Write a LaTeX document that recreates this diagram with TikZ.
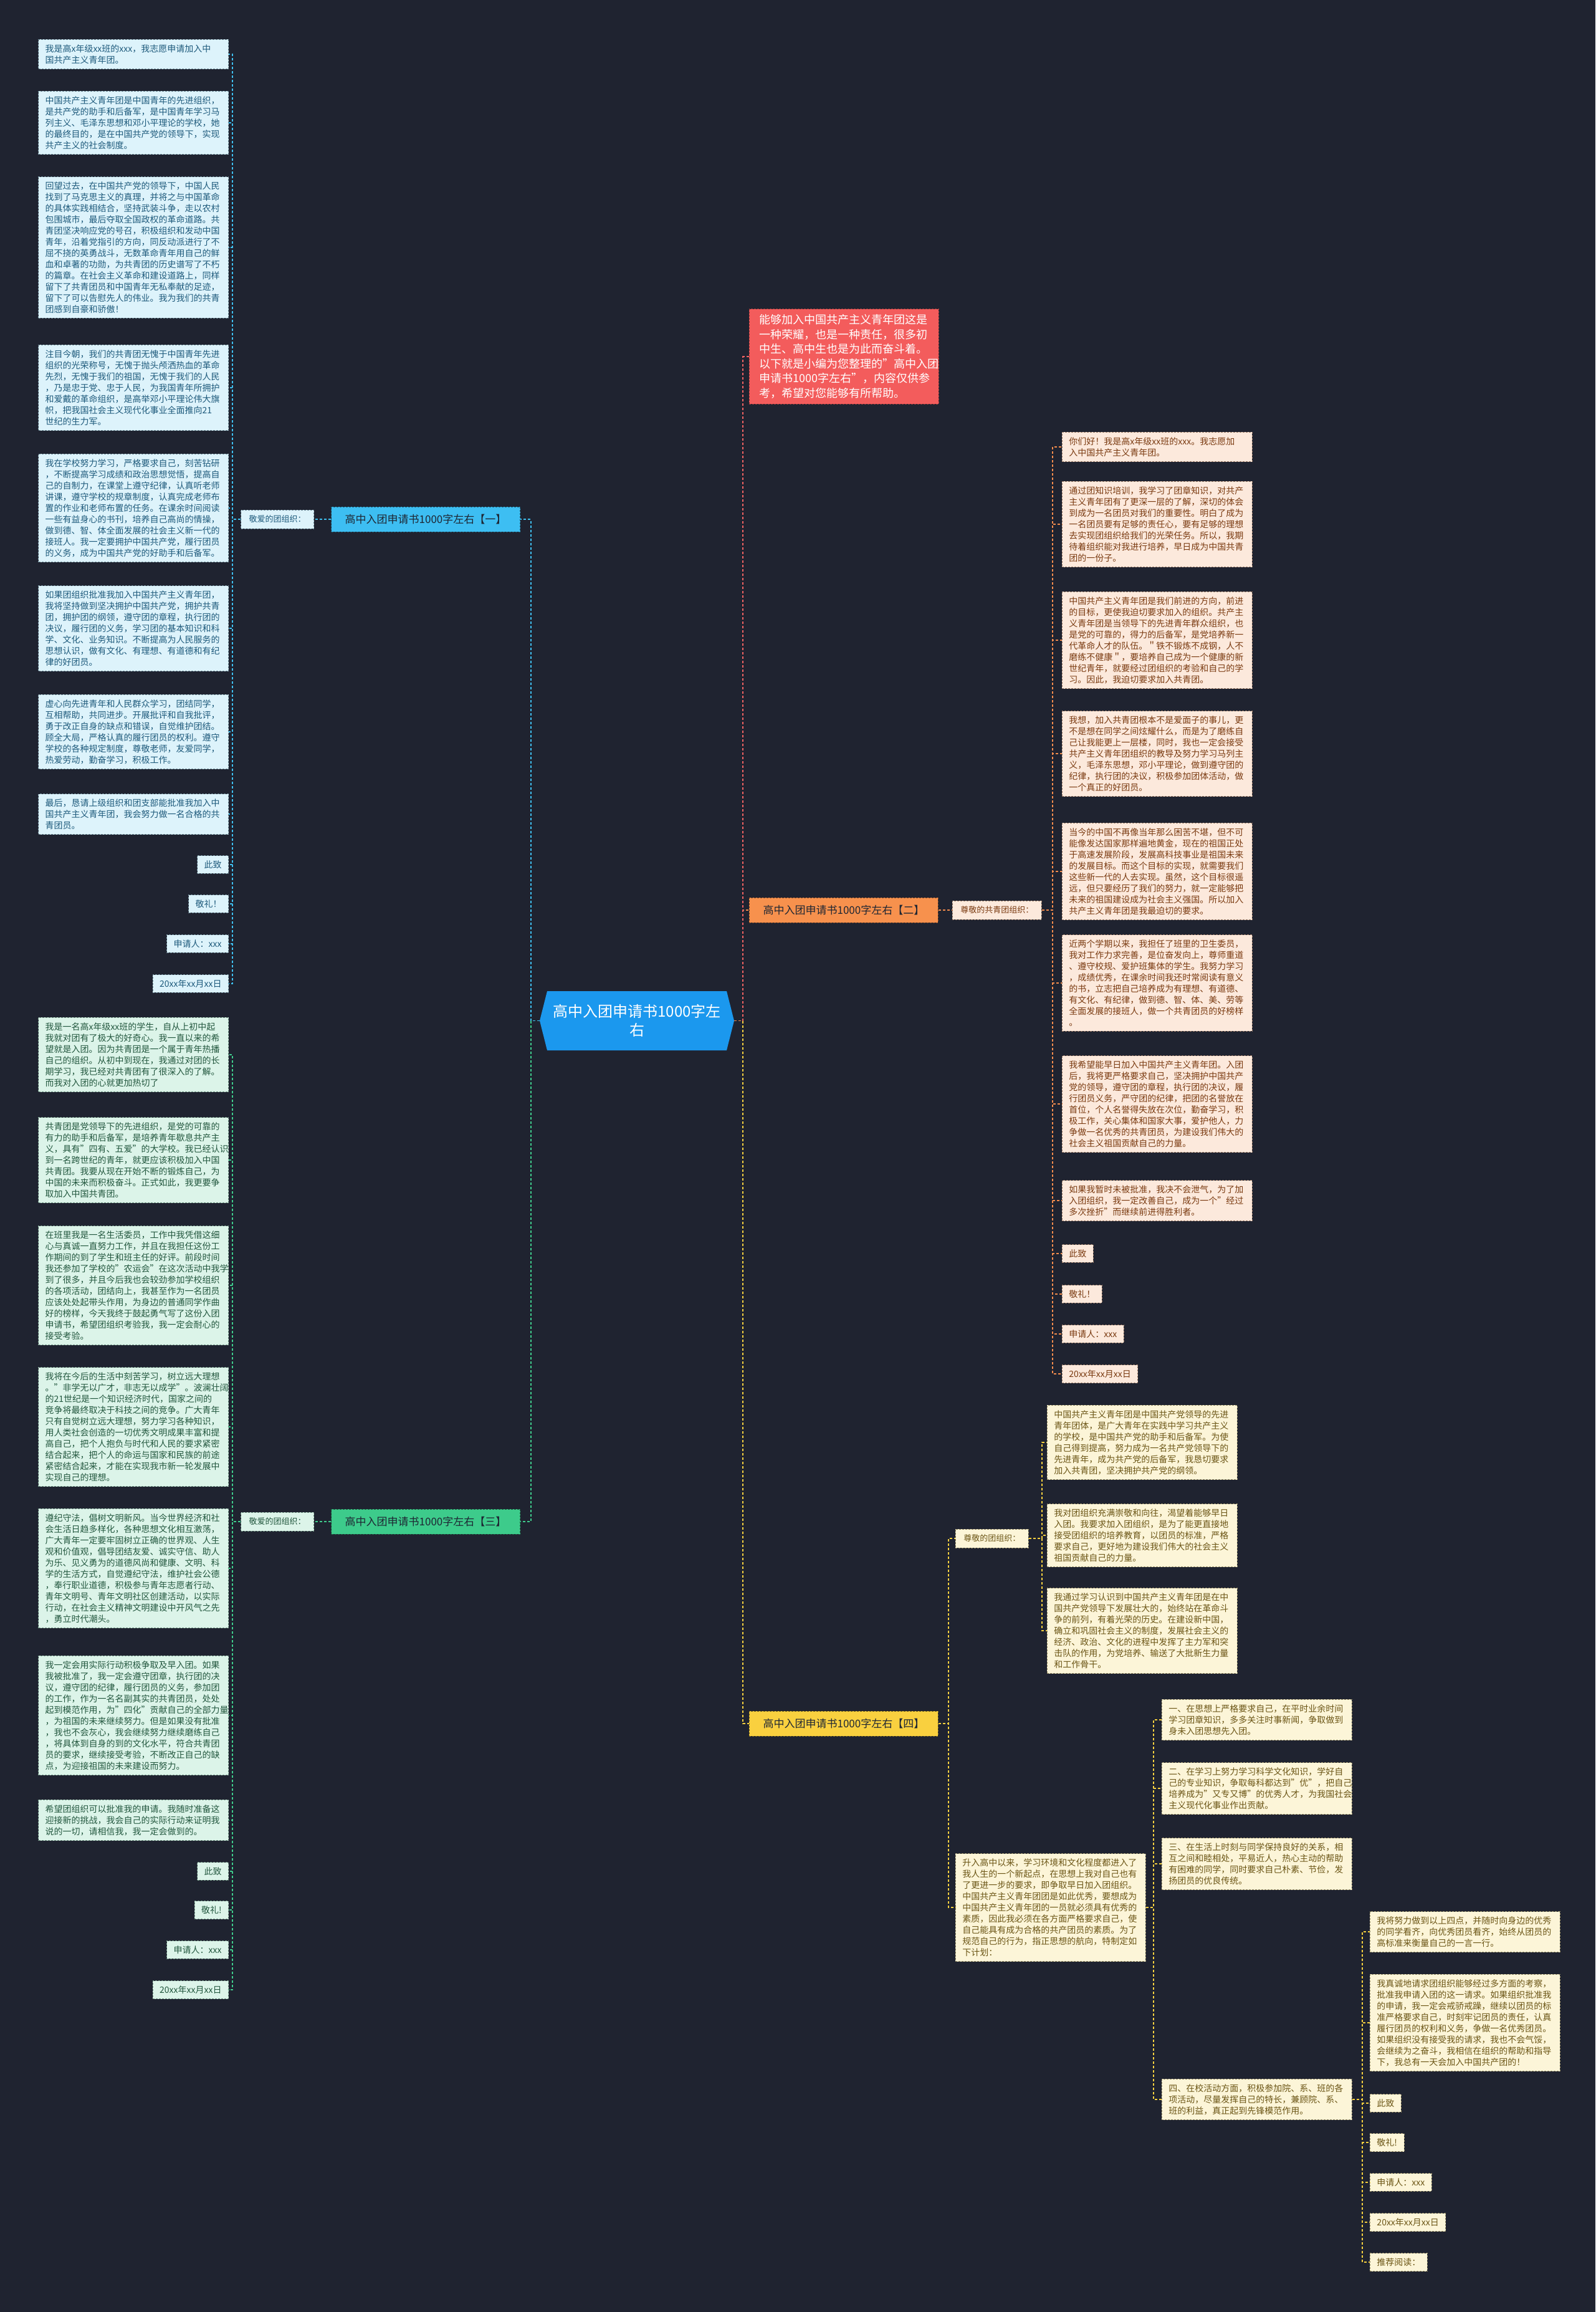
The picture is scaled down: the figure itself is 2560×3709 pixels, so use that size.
\documentclass[tikz,border=0pt]{standalone}
\usepackage{fontspec}
\setmainfont{Noto Sans CJK SC}
\definecolor{bg}{HTML}{1F2330}
\definecolor{cyanC}{HTML}{3FBFEF}
\definecolor{cyanF}{HTML}{3DBEF2}
\definecolor{cyanL}{HTML}{DDF3FB}
\definecolor{cyanB}{HTML}{6E8C99}
\definecolor{cyanT}{HTML}{1E5A7C}
\definecolor{greenC}{HTML}{3FCB8C}
\definecolor{greenF}{HTML}{3DCB8B}
\definecolor{greenL}{HTML}{DCF4E9}
\definecolor{greenB}{HTML}{6E9282}
\definecolor{greenT}{HTML}{22573E}
\definecolor{orC}{HTML}{F28C4D}
\definecolor{orF}{HTML}{F7914D}
\definecolor{orL}{HTML}{FCE9DC}
\definecolor{orB}{HTML}{9A7A66}
\definecolor{orT}{HTML}{7A3A10}
\definecolor{yeC}{HTML}{F3CF3F}
\definecolor{yeF}{HTML}{F9D03F}
\definecolor{yeL}{HTML}{FCF5D8}
\definecolor{yeB}{HTML}{9A9068}
\definecolor{yeT}{HTML}{6B5515}
\definecolor{redC}{HTML}{EF6262}
\definecolor{redF}{HTML}{F35C5C}
\definecolor{redT}{HTML}{FFFFFF}
\definecolor{ctrF}{HTML}{1B98EE}
\definecolor{darkT}{HTML}{1E2633}
\begin{document}
\begin{tikzpicture}[x=1pt,y=-1pt,
  conn/.style={line width=1.6pt, dash pattern=on 4pt off 3pt},
  leafbox/.style={dash pattern=on 3pt off 2pt, line width=0.9pt, inner xsep=11pt, inner ysep=8pt, font=\fontsize{14}{18}\selectfont, align=left},
  parabox/.style={text width=283pt},
  bleaf/.style={leafbox, fill=cyanL, draw=cyanB, text=cyanT},
  gleaf/.style={leafbox, fill=greenL, draw=greenB, text=greenT},
  oleaf/.style={leafbox, fill=orL, draw=orB, text=orT},
  yleaf/.style={leafbox, fill=yeL, draw=yeB, text=yeT},
  branchbox/.style={dash pattern=on 3pt off 2pt, line width=0.9pt, minimum width=303pt, minimum height=40pt, inner xsep=10pt, font=\fontsize{17}{20}\selectfont, text=darkT},
  labbox/.style={dash pattern=on 3pt off 2pt, line width=0.9pt, inner xsep=13pt, inner ysep=7pt, minimum height=30pt, font=\fontsize{13}{16}\selectfont}
]
\useasboundingbox (0,0) rectangle (2560,3709);
\fill[bg] (0,0) rectangle (2560,3709);

% ---------- centre ----------
\fill[ctrF] (866,1637.5) -- (878,1590) -- (1166,1590) -- (1178,1637.5) -- (1166,1685) -- (878,1685) -- cycle;
\node[minimum width=312pt, minimum height=95pt, inner sep=0pt, text width=300pt, align=center, font=\fontsize{24}{30}\selectfont, text=white] (ctr) at (1022,1637.5) {高中入团申请书1000字左\\右};

% ---------- intro ----------
\node[fill=redF, draw=redC!60!black, dash pattern=on 3pt off 2pt, line width=0.9pt, anchor=west, text width=272pt, inner xsep=16pt, inner ysep=9pt, align=left, font=\fontsize{18}{23.5}\selectfont, text=redT] (intro) at (1202,572) {能够加入中国共产主义青年团这是\\一种荣耀，也是一种责任，很多初\\中生、高中生也是为此而奋斗着。\\以下就是小编为您整理的"高中入团\\申请书1000字左右"，内容仅供参\\考，希望对您能够有所帮助。};

% ---------- branch nodes ----------
\node[branchbox, fill=cyanF, draw=cyanC!50!black, anchor=east] (b1) at (835,833) {高中入团申请书1000字左右【一】};
\node[branchbox, fill=orF, draw=orC!50!black, anchor=west] (b2) at (1202,1460) {高中入团申请书1000字左右【二】};
\node[branchbox, fill=greenF, draw=greenC!50!black, anchor=east] (b3) at (835,2441) {高中入团申请书1000字左右【三】};
\node[branchbox, fill=yeF, draw=yeC!50!black, anchor=west] (b4) at (1202,2765) {高中入团申请书1000字左右【四】};

\node[labbox, fill=cyanL, draw=cyanB, text=cyanT, anchor=east] (lab1) at (504,833) {敬爱的团组织：};
\node[labbox, fill=orL, draw=orB, text=orT, anchor=west] (lab2) at (1528,1460) {尊敬的共青团组织：};
\node[labbox, fill=greenL, draw=greenB, text=greenT, anchor=east] (lab3) at (504,2441) {敬爱的团组织：};
\node[labbox, fill=yeL, draw=yeB, text=yeT, anchor=west] (lab4) at (1533,2468) {尊敬的团组织：};

% ---------- branch 1 leaves ----------
\node[bleaf, parabox, anchor=east] (La) at (367,87) {我是高x年级xx班的xxx，我志愿申请加入中\\国共产主义青年团。};
\node[bleaf, parabox, anchor=east] (Lb) at (367,197) {中国共产主义青年团是中国青年的先进组织，\\是共产党的助手和后备军，是中国青年学习马\\列主义、毛泽东思想和邓小平理论的学校，她\\的最终目的，是在中国共产党的领导下，实现\\共产主义的社会制度。};
\node[bleaf, parabox, anchor=east] (Lc) at (367,397) {回望过去，在中国共产党的领导下，中国人民\\找到了马克思主义的真理，并将之与中国革命\\的具体实践相结合，坚持武装斗争，走以农村\\包围城市，最后夺取全国政权的革命道路。共\\青团坚决响应党的号召，积极组织和发动中国\\青年，沿着党指引的方向，同反动派进行了不\\屈不挠的英勇战斗，无数革命青年用自己的鲜\\血和卓著的功勋，为共青团的历史谱写了不朽\\的篇章。在社会主义革命和建设道路上，同样\\留下了共青团员和中国青年无私奉献的足迹，\\留下了可以告慰先人的伟业。我为我们的共青\\团感到自豪和骄傲！};
\node[bleaf, parabox, anchor=east] (Ld) at (367,622) {注目今朝，我们的共青团无愧于中国青年先进\\组织的光荣称号，无愧于抛头颅洒热血的革命\\先烈，无愧于我们的祖国，无愧于我们的人民\\，乃是忠于党、忠于人民，为我国青年所拥护\\和爱戴的革命组织，是高举邓小平理论伟大旗\\帜，把我国社会主义现代化事业全面推向21\\世纪的生力军。};
\node[bleaf, parabox, anchor=east] (Le) at (367,815) {我在学校努力学习，严格要求自己，刻苦钻研\\，不断提高学习成绩和政治思想觉悟，提高自\\己的自制力，在课堂上遵守纪律，认真听老师\\讲课，遵守学校的规章制度，认真完成老师布\\置的作业和老师布置的任务。在课余时间阅读\\一些有益身心的书刊，培养自己高尚的情操，\\做到德、智、体全面发展的社会主义新一代的\\接班人。我一定要拥护中国共产党，履行团员\\的义务，成为中国共产党的好助手和后备军。};
\node[bleaf, parabox, anchor=east] (Lf) at (367,1008) {如果团组织批准我加入中国共产主义青年团，\\我将坚持做到坚决拥护中国共产党，拥护共青\\团，拥护团的纲领，遵守团的章程，执行团的\\决议，履行团的义务，学习团的基本知识和科\\学、文化、业务知识。不断提高为人民服务的\\思想认识，做有文化、有理想、有道德和有纪\\律的好团员。};
\node[bleaf, parabox, anchor=east] (Lg) at (367,1174) {虚心向先进青年和人民群众学习，团结同学，\\互相帮助，共同进步。开展批评和自我批评，\\勇于改正自身的缺点和错误，自觉维护团结。\\顾全大局，严格认真的履行团员的权利。遵守\\学校的各种规定制度，尊敬老师，友爱同学，\\热爱劳动，勤奋学习，积极工作。};
\node[bleaf, parabox, anchor=east] (Lh) at (367,1306) {最后，恳请上级组织和团支部能批准我加入中\\国共产主义青年团，我会努力做一名合格的共\\青团员。};
\node[bleaf, anchor=east] (Li) at (367,1387) {此致};
\node[bleaf, anchor=east] (Lj) at (367,1450) {敬礼！};
\node[bleaf, anchor=east] (Lk) at (367,1514) {申请人：xxx};
\node[bleaf, anchor=east] (Ll) at (367,1578) {20xx年xx月xx日};

% ---------- branch 3 leaves ----------
\node[gleaf, parabox, anchor=east] (Ma) at (367,1692) {我是一名高x年级xx班的学生，自从上初中起\\我就对团有了极大的好奇心。我一直以来的希\\望就是入团。因为共青团是一个属于青年热播\\自己的组织。从初中到现在，我通过对团的长\\期学习，我已经对共青团有了很深入的了解。\\而我对入团的心就更加热切了};
\node[gleaf, parabox, anchor=east] (Mb) at (367,1861) {共青团是党领导下的先进组织，是党的可靠的\\有力的助手和后备军，是培养青年歇息共产主\\义，具有"四有、五爱"的大学校。我已经认识\\到一名跨世纪的青年，就更应该积极加入中国\\共青团。我要从现在开始不断的锻炼自己，为\\中国的未来而积极奋斗。正式如此，我更要争\\取加入中国共青团。};
\node[gleaf, parabox, anchor=east] (Mc) at (367,2062) {在班里我是一名生活委员，工作中我凭借这细\\心与真诚一直努力工作，并且在我担任这份工\\作期间的到了学生和班主任的好评。前段时间\\我还参加了学校的"农运会"在这次活动中我学\\到了很多，并且今后我也会较劲参加学校组织\\的各项活动，团结向上，我甚至作为一名团员\\应该处处起带头作用，为身边的普通同学作曲\\好的榜样，今天我终于鼓起勇气写了这份入团\\申请书，希望团组织考验我，我一定会耐心的\\接受考验。};
\node[gleaf, parabox, anchor=east] (Md) at (367,2289) {我将在今后的生活中刻苦学习，树立远大理想\\。"非学无以广才，非志无以成学"。波澜壮阔\\的21世纪是一个知识经济时代，国家之间的\\竞争将最终取决于科技之间的竞争。广大青年\\只有自觉树立远大理想，努力学习各种知识，\\用人类社会创造的一切优秀文明成果丰富和提\\高自己，把个人抱负与时代和人民的要求紧密\\结合起来，把个人的命运与国家和民族的前途\\紧密结合起来，才能在实现我市新一轮发展中\\实现自己的理想。};
\node[gleaf, parabox, anchor=east] (Me) at (367,2516) {遵纪守法，倡树文明新风。当今世界经济和社\\会生活日趋多样化，各种思想文化相互激荡，\\广大青年一定要牢固树立正确的世界观、人生\\观和价值观，倡导团结友爱、诚实守信、助人\\为乐、见义勇为的道德风尚和健康、文明、科\\学的生活方式，自觉遵纪守法，维护社会公德\\，奉行职业道德，积极参与青年志愿者行动、\\青年文明号、青年文明社区创建活动，以实际\\行动，在社会主义精神文明建设中开风气之先\\，勇立时代潮头。};
\node[gleaf, parabox, anchor=east] (Mf) at (367,2752) {我一定会用实际行动积极争取及早入团。如果\\我被批准了，我一定会遵守团章，执行团的决\\议，遵守团的纪律，履行团员的义务，参加团\\的工作，作为一名名副其实的共青团员，处处\\起到模范作用，为"四化"贡献自己的全部力量\\，为祖国的未来继续努力。但是如果没有批准\\，我也不会灰心，我会继续努力继续磨练自己\\，将具体到自身的到的文化水平，符合共青团\\员的要求，继续接受考验，不断改正自己的缺\\点，为迎接祖国的未来建设而努力。};
\node[gleaf, parabox, anchor=east] (Mg) at (367,2920) {希望团组织可以批准我的申请。我随时准备这\\迎接新的挑战，我会自己的实际行动来证明我\\说的一切，请相信我，我一定会做到的。};
\node[gleaf, anchor=east] (Mh) at (367,3002) {此致};
\node[gleaf, anchor=east] (Mi) at (367,3064) {敬礼!};
\node[gleaf, anchor=east] (Mj) at (367,3128) {申请人：xxx};
\node[gleaf, anchor=east] (Mk) at (367,3192) {20xx年xx月xx日};

% ---------- branch 2 leaves ----------
\node[oleaf, parabox, anchor=west] (Ra) at (1704,717) {你们好！我是高x年级xx班的xxx。我志愿加\\入中国共产主义青年团。};
\node[oleaf, parabox, anchor=west] (Rb) at (1704,841) {通过团知识培训，我学习了团章知识，对共产\\主义青年团有了更深一层的了解，深切的体会\\到成为一名团员对我们的重要性。明白了成为\\一名团员要有足够的责任心，要有足够的理想\\去实现团组织给我们的光荣任务。所以，我期\\待着组织能对我进行培养，早日成为中国共青\\团的一份子。};
\node[oleaf, parabox, anchor=west] (Rc) at (1704,1027) {中国共产主义青年团是我们前进的方向，前进\\的目标，更使我迫切要求加入的组织。共产主\\义青年团是当领导下的先进青年群众组织，也\\是党的可靠的，得力的后备军，是党培养新一\\代革命人才的队伍。＂铁不锻炼不成钢，人不\\磨练不健康＂，要培养自己成为一个健康的新\\世纪青年，就要经过团组织的考验和自己的学\\习。因此，我迫切要求加入共青团。};
\node[oleaf, parabox, anchor=west] (Rd) at (1704,1209) {我想，加入共青团根本不是爱面子的事儿，更\\不是想在同学之间炫耀什么，而是为了磨练自\\己让我能更上一层楼，同时，我也一定会接受\\共产主义青年团组织的教导及努力学习马列主\\义，毛泽东思想，邓小平理论，做到遵守团的\\纪律，执行团的决议，积极参加团体活动，做\\一个真正的好团员。};
\node[oleaf, parabox, anchor=west] (Re) at (1704,1398) {当今的中国不再像当年那么困苦不堪，但不可\\能像发达国家那样遍地黄金，现在的祖国正处\\于高速发展阶段，发展高科技事业是祖国未来\\的发展目标。而这个目标的实现，就需要我们\\这些新一代的人去实现。虽然，这个目标很遥\\远，但只要经历了我们的努力，就一定能够把\\未来的祖国建设成为社会主义强国。所以加入\\共产主义青年团是我最迫切的要求。};
\node[oleaf, parabox, anchor=west] (Rf) at (1704,1577) {近两个学期以来，我担任了班里的卫生委员，\\我对工作力求完善，是位奋发向上，尊师重道\\、遵守校规、爱护班集体的学生。我努力学习\\，成绩优秀，在课余时间我还时常阅读有意义\\的书，立志把自己培养成为有理想、有道德、\\有文化、有纪律，做到德、智、体、美、劳等\\全面发展的接班人，做一个共青团员的好榜样\\。};
\node[oleaf, parabox, anchor=west] (Rg) at (1704,1771) {我希望能早日加入中国共产主义青年团。入团\\后，我将更严格要求自己，坚决拥护中国共产\\党的领导，遵守团的章程，执行团的决议，履\\行团员义务，严守团的纪律，把团的名誉放在\\首位，个人名誉得失放在次位，勤奋学习，积\\极工作，关心集体和国家大事，爱护他人，力\\争做一名优秀的共青团员，为建设我们伟大的\\社会主义祖国贡献自己的力量。};
\node[oleaf, parabox, anchor=west] (Rh) at (1704,1926) {如果我暂时未被批准，我决不会泄气，为了加\\入团组织，我一定改善自己，成为一个"经过\\多次挫折"而继续前进得胜利者。};
\node[oleaf, anchor=west] (Ri) at (1704,2011) {此致};
\node[oleaf, anchor=west] (Rj) at (1704,2076) {敬礼！};
\node[oleaf, anchor=west] (Rk) at (1704,2140) {申请人：xxx};
\node[oleaf, anchor=west] (Rl) at (1704,2204) {20xx年xx月xx日};

% ---------- branch 4 ----------
\node[yleaf, parabox, anchor=west] (Ya) at (1680,2314) {中国共产主义青年团是中国共产党领导的先进\\青年团体，是广大青年在实践中学习共产主义\\的学校，是中国共产党的助手和后备军。为使\\自己得到提高，努力成为一名共产党领导下的\\先进青年，成为共产党的后备军，我恳切要求\\加入共青团，坚决拥护共产党的纲领。};
\node[yleaf, parabox, anchor=west] (Yb) at (1680,2463) {我对团组织充满崇敬和向往，渴望着能够早日\\入团。我要求加入团组织，是为了能更直接地\\接受团组织的培养教育，以团员的标准，严格\\要求自己，更好地为建设我们伟大的社会主义\\祖国贡献自己的力量。};
\node[yleaf, parabox, anchor=west] (Yc) at (1680,2616) {我通过学习认识到中国共产主义青年团是在中\\国共产党领导下发展壮大的，始终站在革命斗\\争的前列，有着光荣的历史。在建设新中国，\\确立和巩固社会主义的制度，发展社会主义的\\经济、政治、文化的进程中发挥了主力军和突\\击队的作用，为党培养、输送了大批新生力量\\和工作骨干。};
\node[yleaf, parabox, anchor=west] (Sh) at (1533,3060) {升入高中以来，学习环境和文化程度都进入了\\我人生的一个新起点，在思想上我对自己也有\\了更进一步的要求，即争取早日加入团组织。\\中国共产主义青年团团是如此优秀，要想成为\\中国共产主义青年团的一员就必须具有优秀的\\素质，因此我必须在各方面严格要求自己，使\\自己能具有成为合格的共产团员的素质。为了\\规范自己的行为，指正思想的航向，特制定如\\下计划：};
\node[yleaf, parabox, anchor=west] (Pa) at (1864,2759) {一、在思想上严格要求自己，在平时业余时间\\学习团章知识，多多关注时事新闻，争取做到\\身未入团思想先入团。};
\node[yleaf, parabox, anchor=west] (Pb) at (1864,2869) {二、在学习上努力学习科学文化知识，学好自\\己的专业知识，争取每科都达到"优"，把自己\\培养成为"又专又博"的优秀人才，为我国社会\\主义现代化事业作出贡献。};
\node[yleaf, parabox, anchor=west] (Pc) at (1864,2990) {三、在生活上时刻与同学保持良好的关系，相\\互之间和睦相处，平易近人，热心主动的帮助\\有困难的同学，同时要求自己朴素、节俭，发\\扬团员的优良传统。};
\node[yleaf, parabox, anchor=west] (Pd) at (1864,3368) {四、在校活动方面，积极参加院、系、班的各\\项活动，尽量发挥自己的特长，兼顾院、系、\\班的利益，真正起到先锋模范作用。};
\node[yleaf, parabox, anchor=west] (Qa) at (2198,3099) {我将努力做到以上四点，并随时向身边的优秀\\的同学看齐，向优秀团员看齐，始终从团员的\\高标准来衡量自己的一言一行。};
\node[yleaf, parabox, anchor=west] (Qb) at (2198,3245) {我真诚地请求团组织能够经过多方面的考察，\\批准我申请入团的这一请求。如果组织批准我\\的申请，我一定会戒骄戒躁，继续以团员的标\\准严格要求自己，时刻牢记团员的责任，认真\\履行团员的权利和义务，争做一名优秀团员。\\如果组织没有接受我的请求，我也不会气馁，\\会继续为之奋斗，我相信在组织的帮助和指导\\下，我总有一天会加入中国共产团的！};
\node[yleaf, anchor=west] (Qc) at (2198,3374) {此致};
\node[yleaf, anchor=west] (Qd) at (2198,3437) {敬礼!};
\node[yleaf, anchor=west] (Qe) at (2198,3501) {申请人：xxx};
\node[yleaf, anchor=west] (Qf) at (2198,3565) {20xx年xx月xx日};
\node[yleaf, anchor=west] (Qg) at (2198,3629) {推荐阅读：};

% ---------- connectors ----------
\draw[conn, greenC] (ctr.west) -- ++(-14,0) |- (b3.east);
\draw[conn, cyanC] (ctr.west) -- ++(-14,0) |- (b1.east);
\draw[conn, yeC] (ctr.east) -- ++(14,0) |- (b4.west);
\draw[conn, orC] (ctr.east) -- ++(14,0) |- (b2.west);
\draw[conn, redC] (ctr.east) ++(14,0) |- (intro.west);

\draw[conn, cyanC] (b1.west) -- (lab1.east);
\draw[conn, greenC] (b3.west) -- (lab3.east);
\draw[conn, orC] (b2.east) -- (lab2.west);
\draw[conn, yeC] (b4.east) -- ++(16,0) |- (lab4.west);
\draw[conn, yeC] (b4.east) -- ++(16,0) |- (Sh.west);

\foreach \n in {La,Lb,Lc,Ld,Le,Lf,Lg,Lh,Li,Lj,Lk,Ll}
  \draw[conn, cyanC] (lab1.west) -- ++(-13,0) |- (\n.east);
\foreach \n in {Ma,Mb,Mc,Md,Me,Mf,Mg,Mh,Mi,Mj,Mk}
  \draw[conn, greenC] (lab3.west) -- ++(-13,0) |- (\n.east);
\foreach \n in {Ra,Rb,Rc,Rd,Re,Rf,Rg,Rh,Ri,Rj,Rk,Rl}
  \draw[conn, orC] (lab2.east) -- ++(17,0) |- (\n.west);
\foreach \n in {Ya,Yb,Yc}
  \draw[conn, yeC] (lab4.east) -- ++(21,0) |- (\n.west);
\foreach \n in {Pa,Pb,Pc,Pd}
  \draw[conn, yeC] (Sh.east) -- ++(12,0) |- (\n.west);
\foreach \n in {Qa,Qb,Qc,Qd,Qe,Qf,Qg}
  \draw[conn, yeC] (Pd.east) -- ++(16,0) |- (\n.west);
\end{tikzpicture}
\end{document}
